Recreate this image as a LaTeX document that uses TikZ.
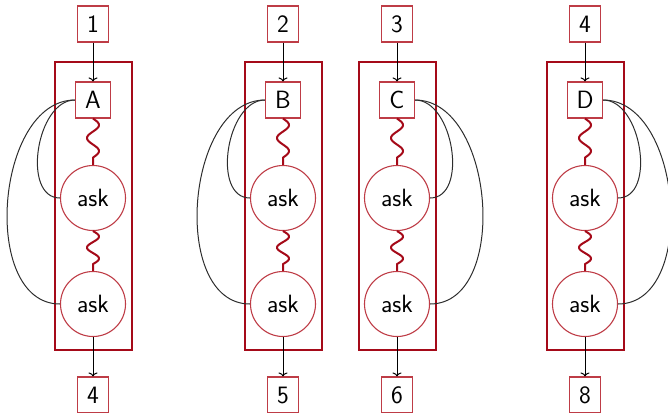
\documentclass[tikz,border=0pt]{standalone}
\usetikzlibrary{arrows.meta}
\definecolor{boxred}{RGB}{190,60,70}
\definecolor{framered}{RGB}{165,10,25}
\definecolor{linkgray}{RGB}{45,45,45}
\tikzset{
  numbox/.style={draw=boxred, line width=1.1pt, minimum width=31pt, minimum height=36pt, inner sep=0pt},
  letbox/.style={draw=boxred, line width=1.1pt, minimum width=35pt, minimum height=36pt, inner sep=0pt},
  askc/.style={circle, draw=boxred, line width=1.1pt, minimum size=65pt, inner sep=0pt},
  framebox/.style={draw=framered, line width=2.5pt, minimum width=77pt, minimum height=288pt, inner sep=0pt},
  wave/.style={draw=framered, line width=2pt, line join=round},
  flow/.style={draw=black, line width=1pt, -{To[length=4pt,width=9pt]}},
  link/.style={draw=linkgray, line width=1pt},
}
\begin{document}
\begin{tikzpicture}[x=1pt,y=-1pt,font=\fontsize{25}{30}\selectfont\sffamily]
\useasboundingbox (0,0) rectangle (668,412);
\foreach \cx/\t/\l/\b/\a/\n in {93/1/A/4/180/a, 283/2/B/5/180/b, 397/3/C/6/0/c, 585/4/D/8/0/d} {
  \node[framebox] (frame\n) at (\cx+0.5,206) {};
  \node[numbox] (top\n) at (\cx,24) {\t};
  \node[letbox] (let\n) at (\cx,100) {\l};
  \node[askc] (askone\n) at (\cx,198) {ask};
  \node[askc] (asktwo\n) at (\cx,304) {ask};
  \node[numbox] (bot\n) at (\cx,395) {\b};
  \draw[flow] (top\n) -- (let\n);
  \draw[flow] (asktwo\n) -- (bot\n);
  \draw[wave, shift={(let\n.south)}] plot[domain=0:39, samples=60, smooth] ({6*sin(\x*360/26)}, \x) -- (askone\n.north);
  \draw[wave, shift={(askone\n.south)}] plot[domain=0:33, samples=60, smooth] ({6*sin(\x*360/22)}, \x) -- (asktwo\n.north);
  \draw[link] (let\n.\a) to[out=\a,in=\a] (askone\n.\a);
  \draw[link] (let\n.\a) to[out=\a,in=\a] (asktwo\n.\a);
}
\end{tikzpicture}
\end{document}
